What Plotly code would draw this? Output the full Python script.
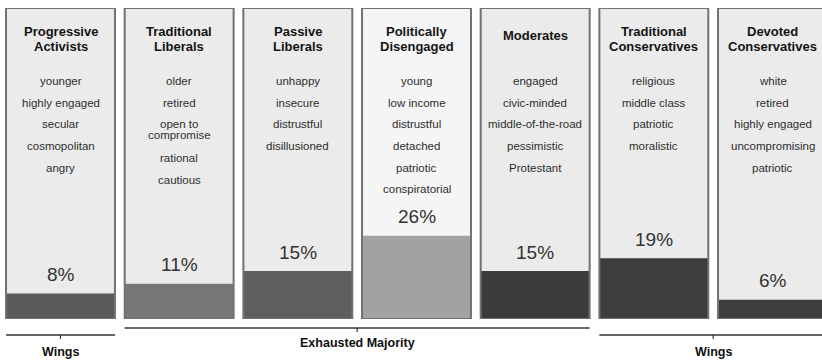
import plotly.graph_objects as go

segments = ["Progressive Activists", "Traditional Liberals", "Passive Liberals",
            "Politically Disengaged", "Moderates", "Traditional Conservatives",
            "Devoted Conservatives"]
title_lines = [["Progressive", "Activists"], ["Traditional", "Liberals"], ["Passive", "Liberals"],
               ["Politically", "Disengaged"], ["Moderates"], ["Traditional", "Conservatives"],
               ["Devoted", "Conservatives"]]
shares = [8, 11, 15, 26, 15, 19, 6]
traits = [
    ["younger", "highly engaged", "secular", "cosmopolitan", "angry"],
    ["older", "retired", "open to\ncompromise", "rational", "cautious"],
    ["unhappy", "insecure", "distrustful", "disillusioned"],
    ["young", "low income", "distrustful", "detached", "patriotic", "conspiratorial"],
    ["engaged", "civic-minded", "middle-of-the-road", "pessimistic", "Protestant"],
    ["religious", "middle class", "patriotic", "moralistic"],
    ["white", "retired", "highly engaged", "uncompromising", "patriotic"],
]
groups = ["Wings", "Exhausted Majority", "Exhausted Majority", "Exhausted Majority",
          "Exhausted Majority", "Wings", "Wings"]

bar_colors = ["#5b5b5b", "#777777", "#5e5e5e", "#a2a2a2", "#3b3b3b", "#3d3d3d", "#3d3d3d"]
panel_colors = ["#ebebeb", "#ebebeb", "#ebebeb", "#f5f5f5", "#ebebeb", "#ebebeb", "#ebebeb"]

W, H = 822, 360
FONT = "Liberation Sans, Arial, sans-serif"
YMAX = 97.2
BW = 0.918
x = list(range(len(segments)))

def py(p):
    return (H - p) / H

fig = go.Figure()
fig.add_trace(go.Bar(x=x, y=[YMAX] * len(x), width=BW, marker=dict(color=panel_colors, line=dict(width=0)),
                     hoverinfo="skip", cliponaxis=False))
fig.add_trace(go.Bar(x=x, y=shares, width=BW, marker=dict(color=bar_colors, line=dict(width=0)),
                     hovertext=segments, cliponaxis=False))
fig.add_trace(go.Bar(x=x, y=[YMAX] * len(x), width=BW,
                     marker=dict(color="rgba(0,0,0,0)", line=dict(width=2, color="#727272")),
                     hoverinfo="skip", cliponaxis=False))

ann = []
for i in x:
    tl = title_lines[i]
    ys = [36] if len(tl) == 1 else [31, 46]
    for t, yy in zip(tl, ys):
        ann.append(dict(x=i, y=py(yy), xref="x", yref="paper", text="<b>%s</b>" % t, showarrow=False,
                        font=dict(family=FONT, size=13, color="#141414"), xanchor="center", yanchor="middle"))
    yy = 81
    for tr in traits[i]:
        parts = tr.split("\n")
        if len(parts) == 1:
            ann.append(dict(x=i, y=py(yy), xref="x", yref="paper", text=tr, showarrow=False,
                            font=dict(family=FONT, size=11.5, color="#2e2e2e"), xanchor="center", yanchor="middle"))
            yy += 21.7
        else:
            yy2 = yy - 0.5
            for p in parts:
                ann.append(dict(x=i, y=py(yy2), xref="x", yref="paper", text=p, showarrow=False,
                                font=dict(family=FONT, size=11.5, color="#2e2e2e"), xanchor="center", yanchor="middle"))
                yy2 += 11
            yy += 33.5
    ann.append(dict(x=i, y=shares[i], xref="x", yref="y", text="%d%%" % shares[i], showarrow=False, yshift=19,
                    font=dict(family=FONT, size=19, color="#333333"), xanchor="center", yanchor="middle"))

shapes = []
spans = []
start = 0
for i in range(1, len(groups) + 1):
    if i == len(groups) or groups[i] != groups[start]:
        spans.append((groups[start], start, i - 1))
        start = i
for name, a, b in spans:
    if name == "Exhausted Majority":
        ly, ty = 328, 343
    else:
        ly, ty = 335, 352
    x0, x1 = a - BW / 2, b + BW / 2
    xc = (x0 + x1) / 2
    shapes.append(dict(type="line", xref="x", yref="paper", x0=x0, x1=x1, y0=py(ly), y1=py(ly),
                       line=dict(color="#333333", width=1.5)))
    shapes.append(dict(type="line", xref="x", yref="paper", x0=xc, x1=xc, y0=py(ly), y1=py(ly + 4),
                       line=dict(color="#333333", width=1.2)))
    ann.append(dict(x=xc, y=py(ty), xref="x", yref="paper", text="<b>%s</b>" % name, showarrow=False,
                    font=dict(family=FONT, size=12.5, color="#111111"), xanchor="center", yanchor="middle"))

pitch = 118.67
fig.update_layout(
    width=W, height=H, margin=dict(l=0, r=0, t=0, b=0),
    paper_bgcolor="white", plot_bgcolor="white",
    barmode="overlay", showlegend=False,
    xaxis=dict(range=[-60.5 / pitch, 6 + (822 - 772.5) / pitch], visible=False, fixedrange=True),
    yaxis=dict(range=[0, YMAX], domain=[py(319), py(8)], visible=False, fixedrange=True),
    annotations=ann, shapes=shapes,
)
fig.write_html("out.html")
